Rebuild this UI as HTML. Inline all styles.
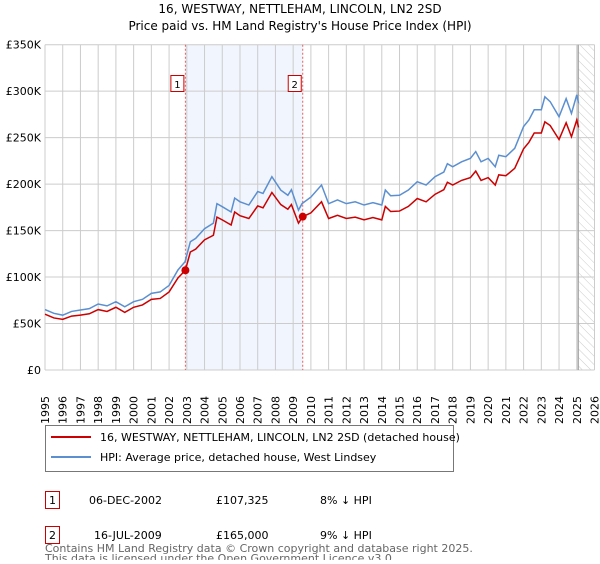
<!DOCTYPE html>
<html><head><meta charset="utf-8"><style>
body{margin:0;background:#fff;width:600px;height:560px;overflow:hidden;font-family:"DejaVu Sans","Liberation Sans",sans-serif;}
svg text{font-family:"DejaVu Sans","Liberation Sans",sans-serif;}
</style></head><body>
<svg id="chart" width="600" height="560" viewBox="0 0 600 560" xmlns="http://www.w3.org/2000/svg">
<text x="300" y="13" font-size="12" text-anchor="middle">16, WESTWAY, NETTLEHAM, LINCOLN, LN2 2SD</text>
<text x="300" y="30" font-size="12" text-anchor="middle">Price paid vs. HM Land Registry's House Price Index (HPI)</text>
<g id="grid"></g><g id="marks"></g><g id="axes"></g>
<g>
<rect x="45.5" y="425.5" width="408" height="46" fill="#fff" stroke="#777"/>
<line x1="51" y1="437" x2="91" y2="437" stroke="#cc0000" stroke-width="2"/>
<text x="100" y="441" font-size="11">16, WESTWAY, NETTLEHAM, LINCOLN, LN2 2SD (detached house)</text>
<line x1="51" y1="457" x2="91" y2="457" stroke="#5b8fd0" stroke-width="2"/>
<text x="100" y="461" font-size="11">HPI: Average price, detached house, West Lindsey</text>
</g>
<g font-size="11">
<rect x="45.5" y="491.5" width="14" height="17" fill="#fff" stroke="#cc0000"/>
<text x="52.5" y="504" text-anchor="middle">1</text>
<text x="89" y="504">06-DEC-2002</text><text x="216" y="504">£107,325</text><text x="320" y="504">8% ↓ HPI</text>
<rect x="45.5" y="526.5" width="14" height="17" fill="#fff" stroke="#cc0000"/>
<text x="52.5" y="539" text-anchor="middle">2</text>
<text x="94" y="539">16-JUL-2009</text><text x="216" y="539">£165,000</text><text x="320" y="539">9% ↓ HPI</text>
</g>
<text x="45" y="552" font-size="11" fill="#666">Contains HM Land Registry data © Crown copyright and database right 2025.</text>
<text x="45" y="562" font-size="11" fill="#666">This data is licensed under the Open Government Licence v3.0.</text>
</svg>
<script>
const yearTicks=[1995,1996,1997,1998,1999,2000,2001,2002,2003,2004,2005,2006,2007,2008,2009,2010,2011,2012,2013,2014,2015,2016,2017,2018,2019,2020,2021,2022,2023,2024,2025,2026];
const valueTicks=[0,50,100,150,200,250,300,350];
const valueLabels=["£0","£50K","£100K","£150K","£200K","£250K","£300K","£350K"];
const hpiDates=[1995.0,1995.5,1996.0,1996.5,1997.0,1997.5,1998.0,1998.5,1999.0,1999.5,2000.0,2000.5,2001.0,2001.5,2002.0,2002.5,2002.9,2003.2,2003.5,2004.0,2004.5,2004.7,2005.0,2005.5,2005.7,2006.0,2006.5,2007.0,2007.3,2007.8,2008.3,2008.7,2008.9,2009.3,2009.5,2010.0,2010.6,2011.0,2011.5,2012.0,2012.5,2013.0,2013.5,2014.0,2014.2,2014.5,2015.0,2015.5,2016.0,2016.5,2017.0,2017.5,2017.7,2018.0,2018.5,2019.0,2019.3,2019.6,2020.0,2020.4,2020.6,2021.0,2021.5,2022.0,2022.3,2022.6,2023.0,2023.2,2023.5,2024.0,2024.4,2024.7,2025.0,2025.1];
const hpiValues=[65,61,59,63,64.5,66,71,69,73.5,68,73.5,76,82.5,84,91,107.6,116.5,138,141.6,152,158,179,175.7,170,185,181,177.5,192,190,208,193.6,188,194,172,179,186,199,179,183,179,181,177.5,180,177.5,193.6,187.5,188,193.6,202.6,199,208,213,222,218.7,224,227.7,235,224,227.7,218.7,231,229.5,238.5,262,269,280,280,294,288.7,272.5,292,276,296,287];
const priceDates=[1995.0,1995.5,1996.0,1996.5,1997.0,1997.5,1998.0,1998.5,1999.0,1999.5,2000.0,2000.5,2001.0,2001.5,2002.0,2002.5,2002.92,2003.2,2003.5,2004.0,2004.5,2004.7,2005.0,2005.5,2005.7,2006.0,2006.5,2007.0,2007.3,2007.8,2008.3,2008.7,2008.9,2009.3,2009.54,2010.0,2010.6,2011.0,2011.5,2012.0,2012.5,2013.0,2013.5,2014.0,2014.2,2014.5,2015.0,2015.5,2016.0,2016.5,2017.0,2017.5,2017.7,2018.0,2018.5,2019.0,2019.3,2019.6,2020.0,2020.4,2020.6,2021.0,2021.5,2022.0,2022.3,2022.6,2023.0,2023.2,2023.5,2024.0,2024.4,2024.7,2025.0,2025.1];
const priceValues=[60,56,54.5,58,59,60.5,65,63,67.5,62,67.5,70,76,77,84,99,107.3,127,130,140,145,164.5,161.5,156,170,166,163,176.5,174.5,191,178,173,178,158,165,169,181,163,166.5,163,164.5,161.5,164,161.5,176,170.5,171,176,184.5,181,189,194,202,199,204,207,214,204,207,199,210,209,217,238,245,255,255,267,263,248,266,251,269,261];
const sales=[{n:"1",date:2002.92,value:107.325},{n:"2",date:2009.54,value:165}];
const X0=45,X1=594.5,Y0=370,Y1=44.7;
const x=d=>X0+(d-1995)/(2026-1995)*(X1-X0);
const y=v=>Y0-v/350*(Y0-Y1);
const NS="http://www.w3.org/2000/svg";
function mk(parent,tag,attrs){const e=document.createElementNS(NS,tag);for(const k in attrs)e.setAttribute(k,attrs[k]);document.getElementById(parent).appendChild(e);return e;}
const sh=mk("grid","rect",{x:x(sales[0].date),y:Y1,width:x(sales[1].date)-x(sales[0].date),height:Y0-Y1,fill:"#eef3fc",opacity:"0.8"});


const defs=mk("grid","defs",{});
const pat=document.createElementNS(NS,"pattern");pat.setAttribute("id","hatch");pat.setAttribute("width","6");pat.setAttribute("height","6");pat.setAttribute("patternUnits","userSpaceOnUse");pat.setAttribute("patternTransform","rotate(-45)");
const pl=document.createElementNS(NS,"line");pl.setAttribute("x1","0");pl.setAttribute("y1","0");pl.setAttribute("x2","0");pl.setAttribute("y2","6");pl.setAttribute("stroke","#ccc");pat.appendChild(pl);defs.appendChild(pat);
const ht=mk("grid","rect",{x:x(2025.08),y:Y1,width:X1-x(2025.08),height:Y0-Y1,fill:"url(#hatch)"});


yearTicks.forEach(t=>{const l=mk("grid","line",{x1:x(t),x2:x(t),y1:Y1,y2:Y0,stroke:"#ccc"});


const tx=mk("axes","text",{x:0,y:0,"font-size":"11",transform:`translate(${x(t)+4},${Y0+54}) rotate(-90)`});tx.textContent=t;

});
valueTicks.forEach((v,i)=>{const l=mk("grid","line",{x1:X0,x2:X1,y1:y(v),y2:y(v),stroke:"#ccc"});


const tx=mk("axes","text",{x:X0-4,y:y(v)+4,"font-size":"11","text-anchor":"end"});tx.textContent=valueLabels[i];

});
const cl=mk("grid","line",{x1:x(2025.08),x2:x(2025.08),y1:Y1,y2:Y0,stroke:"#999","stroke-width":"1.2"});


sales.forEach(s=>{const l=mk("grid","line",{x1:x(s.date),x2:x(s.date),y1:Y1,y2:Y0,stroke:"#e06060","stroke-dasharray":"2,2"});


const b=mk("axes","rect",{x:x(s.date)-14.5,y:75.5,width:13,height:16,fill:"#fff",stroke:"#cc0000"});


const t=mk("axes","text",{x:x(s.date)-8,y:88,"font-size":"10","text-anchor":"middle"});t.textContent=s.n;

});
const hp=mk("marks","polyline",{points:hpiDates.map((d,i)=>x(d)+","+y(hpiValues[i])).join(" "),fill:"none",stroke:"#5b8fd0","stroke-width":"1.5"});


const pp=mk("marks","polyline",{points:priceDates.map((d,i)=>x(d)+","+y(priceValues[i])).join(" "),fill:"none",stroke:"#cc0000","stroke-width":"1.5"});


sales.forEach(s=>{const c=mk("marks","circle",{cx:x(s.date),cy:y(s.value),r:4,fill:"#cc0000"});

});
</script>
</body></html>
